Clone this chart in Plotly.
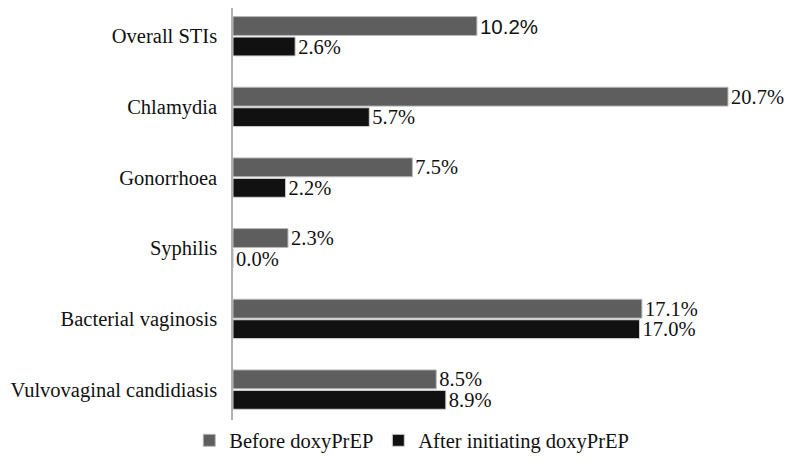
import plotly.graph_objects as go

categories = ["Overall STIs", "Chlamydia", "Gonorrhoea", "Syphilis",
              "Bacterial vaginosis", "Vulvovaginal candidiasis"]
before = [10.2, 20.7, 7.5, 2.3, 17.1, 8.5]
after = [2.6, 5.7, 2.2, 0.0, 17.0, 8.9]
# the first "before" label is printed in a sans-serif face in the original
before_sans = [True, False, False, False, False, False]

serif = "Liberation Serif"
sans = "Liberation Sans"


def label(v, use_sans=False):
    fam = sans if use_sans else serif
    return f"<span style='font-family:\"{fam}\"'>{v:.1f}%</span>"


lbl_font = dict(family=serif, size=20.5, color="#111111")

fig = go.Figure()
fig.add_trace(go.Bar(
    y=categories, x=before, orientation="h", name="Before doxyPrEP",
    marker=dict(color="#5e5e5e", line=dict(color="#b8b8b8", width=1)),
    text=[label(v, s) for v, s in zip(before, before_sans)],
    textposition="outside",
    textfont=lbl_font, outsidetextfont=lbl_font,
    constraintext="none", cliponaxis=False,
))
fig.add_trace(go.Bar(
    y=categories, x=after, orientation="h", name="After initiating doxyPrEP",
    marker=dict(color="#111111", line=dict(color="#d0d0d0", width=1)),
    text=[label(v) for v in after], textposition="outside",
    textfont=lbl_font, outsidetextfont=lbl_font,
    constraintext="none", cliponaxis=False,
))

fig.update_layout(
    width=800, height=461,
    margin=dict(l=225, r=25, t=0, b=37, autoexpand=False),
    paper_bgcolor="white", plot_bgcolor="white",
    barmode="group", bargap=0.42, bargroupgap=0.08,
    font=dict(family=serif, size=20.5, color="#111111"),
    showlegend=True,
    legend=dict(orientation="h", x=0.325, xanchor="center",
                y=-0.02, yanchor="middle", traceorder="normal",
                font=dict(family=serif, size=20.5, color="#111111")),
    xaxis=dict(range=[0, 23], visible=False, showgrid=False, zeroline=False),
    yaxis=dict(range=[5.6, -0.4], showline=True, linecolor="#b0b0b0",
               linewidth=1.5, ticks="", showgrid=False, automargin=False,
               tickfont=dict(family=serif, size=20.5, color="#111111"),
               ticklabelstandoff=10),
)

fig.write_html("out.html")
